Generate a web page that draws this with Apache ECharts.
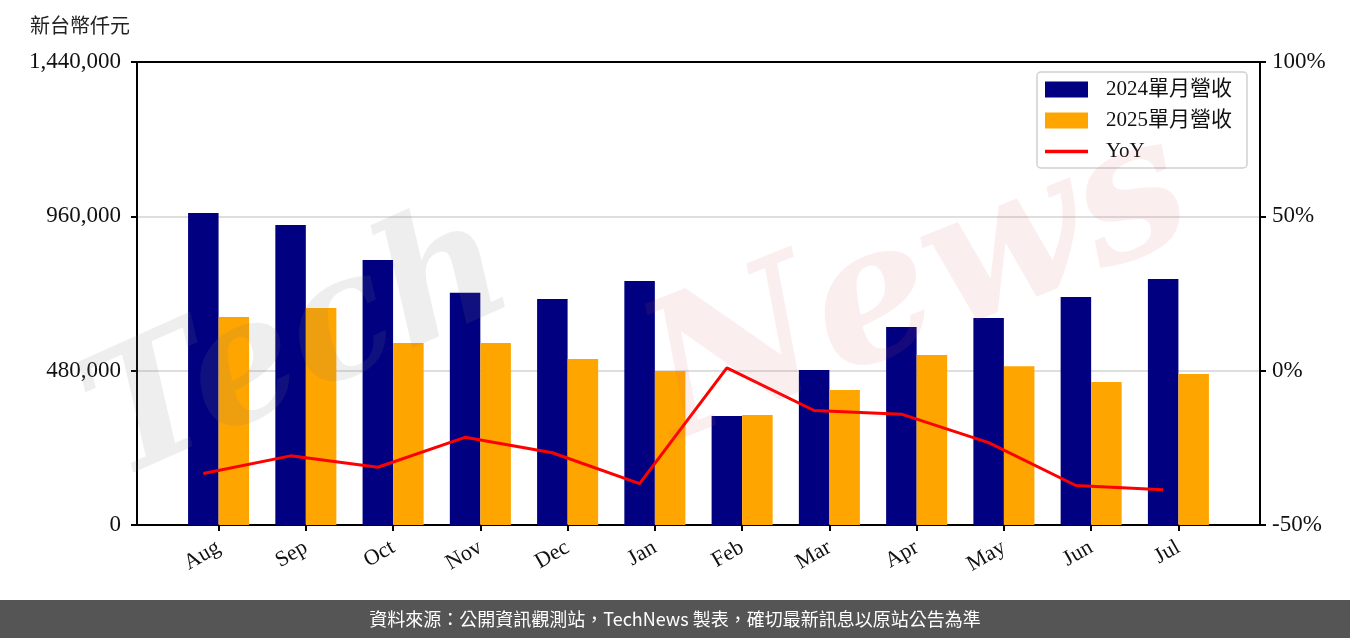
<!DOCTYPE html>
<html>
<head>
<meta charset="utf-8">
<script src="https://cdn.jsdelivr.net/npm/echarts@6/dist/echarts.min.js"></script>
<style>
html,body{margin:0;padding:0;background:#fff;}
#chart{width:1350px;height:638px;}
</style>
</head>
<body>
<div id="chart"></div>
<script>
var months = ['Aug','Sep','Oct','Nov','Dec','Jan','Feb','Mar','Apr','May','Jun','Jul'];
var rev2024 = [970000, 933000, 824000, 722000, 703000, 759000, 339000, 482000, 616000, 644000, 709000, 765000];
var rev2025 = [647000, 675000, 566000, 566000, 516000, 479000, 342000, 420000, 529000, 494000, 445000, 470000];
var yoy = [-33.3, -27.6, -31.3, -21.6, -26.6, -36.6, 0.9, -12.9, -14.1, -23.3, -37.2, -38.6];
var leftTicks = [0, 480000, 960000, 1440000];
var rightTicks = [-50, 0, 50, 100];
var seriesNames = ['2024單月營收', '2025單月營收', 'YoY'];

var serif = '"Liberation Serif","DejaVu Serif","Noto Sans CJK TC",serif';
var idx = months.map(function(_, i){ return i; });

var chart = echarts.init(document.getElementById('chart'), null, {renderer:'canvas'});
var option = {
  animation: false,
  backgroundColor: '#ffffff',
  grid: {left: 137, right: 90, top: 62, bottom: 113, containLabel: false},
  legend: {
    left: 1037, top: 72,
    orient: 'vertical',
    padding: [7, 15, 6, 8],
    itemGap: 10,
    itemWidth: 43, itemHeight: 16,
    borderColor: '#d0d0d0', borderWidth: 1.5, borderRadius: 4,
    backgroundColor: 'rgba(255,255,255,0.8)',
    textStyle: {fontFamily: serif, fontSize: 21, color: '#111', lineHeight: 20, padding: [0,0,0,13]},
    data: [
      {name: seriesNames[0], icon: 'rect'},
      {name: seriesNames[1], icon: 'rect'},
      {name: seriesNames[2], icon: 'path://M0,0H43V3.5H0Z'}
    ]
  },
  xAxis: [{
    type: 'value', min: -0.935, max: 11.935,
    position: 'bottom',
    axisLine: {show: true, onZero: false, lineStyle: {color: '#000', width: 2}},
    axisTick: {show: true, customValues: idx, length: 6, lineStyle: {color: '#000', width: 2}},
    axisLabel: {show: true, customValues: idx, rotate: 30, margin: 21,
      fontFamily: serif, fontSize: 22, color: '#111',
      formatter: function(v){ var i = Math.round(v); return months[i] || ''; }},
    splitLine: {show: false}
  }, {
    type: 'value', min: -0.935, max: 11.935,
    position: 'top',
    axisLine: {show: true, onZero: false, lineStyle: {color: '#000', width: 2}},
    axisTick: {show: false}, axisLabel: {show: false}, splitLine: {show: false}
  }],
  yAxis: [{
    type: 'value', min: 0, max: 1440000, interval: 480000,
    position: 'left',
    axisLine: {show: true, onZero: false, lineStyle: {color: '#000', width: 2}},
    axisTick: {show: true, length: 6, lineStyle: {color: '#000', width: 2}},
    axisLabel: {fontFamily: serif, fontSize: 23, color: '#111', margin: 16,
      formatter: function(v){ return v.toLocaleString('en-US'); }},
    splitLine: {show: true, lineStyle: {color: '#d3d3d3', width: 1.5}}
  }, {
    type: 'value', min: -50, max: 100, interval: 50,
    position: 'right',
    axisLine: {show: true, onZero: false, lineStyle: {color: '#000', width: 2}},
    axisTick: {show: true, length: 6, lineStyle: {color: '#000', width: 2}},
    axisLabel: {fontFamily: serif, fontSize: 23, color: '#111', margin: 12,
      formatter: function(v){ return v + '%'; }},
    splitLine: {show: false}
  }],
  series: [{
    name: seriesNames[0], type: 'bar', xAxisIndex: 0, yAxisIndex: 0,
    barWidth: 30.5, barGap: '-100%',
    itemStyle: {color: '#000080'},
    data: rev2024.map(function(v, i){ return [i - 0.175, v]; })
  }, {
    name: seriesNames[1], type: 'bar', xAxisIndex: 0, yAxisIndex: 0,
    barWidth: 30.5, barGap: '-100%',
    itemStyle: {color: '#FFA500'},
    data: rev2025.map(function(v, i){ return [i + 0.175, v]; })
  }, {
    name: seriesNames[2], type: 'line', xAxisIndex: 0, yAxisIndex: 1,
    symbol: 'none', showSymbol: false,
    lineStyle: {color: '#FF0000', width: 3},
    itemStyle: {color: '#FF0000'},
    z: 5,
    data: yoy.map(function(v, i){ return [i - 0.175, v]; })
  }],
  graphic: [
    {type: 'text', left: 30, top: 15, style: {text: '新台幣仟元', fontFamily: '"Noto Sans CJK TC",sans-serif', fontSize: 20, fill: '#222'}},
    {type: 'text', x: 300, y: 350, rotation: 0.42, z: 100, silent: true,
      style: {text: 'Tech', fontFamily: '"DejaVu Serif",serif', fontStyle: 'italic', fontWeight: 'bold', fontSize: 170,
        fill: 'rgba(120,120,120,0.13)', align: 'center', verticalAlign: 'middle'}},
    {type: 'text', x: 920, y: 290, rotation: 0.38, z: 100, silent: true,
      style: {text: 'News', fontFamily: '"DejaVu Serif",serif', fontStyle: 'italic', fontWeight: 'bold', fontSize: 190,
        fill: 'rgba(220,90,90,0.10)', align: 'center', verticalAlign: 'middle'}},
    {type: 'rect', left: 0, top: 600, shape: {width: 1350, height: 38}, style: {fill: '#555555'}},
    {type: 'text', x: 675, y: 619, style: {text: '資料來源：公開資訊觀測站，TechNews 製表，確切最新訊息以原站公告為準',
      fontFamily: '"Noto Sans CJK TC",sans-serif', fontSize: 18, fill: '#ffffff', align: 'center', verticalAlign: 'middle'}}
  ]
};
chart.setOption(option);
</script>
</body>
</html>
